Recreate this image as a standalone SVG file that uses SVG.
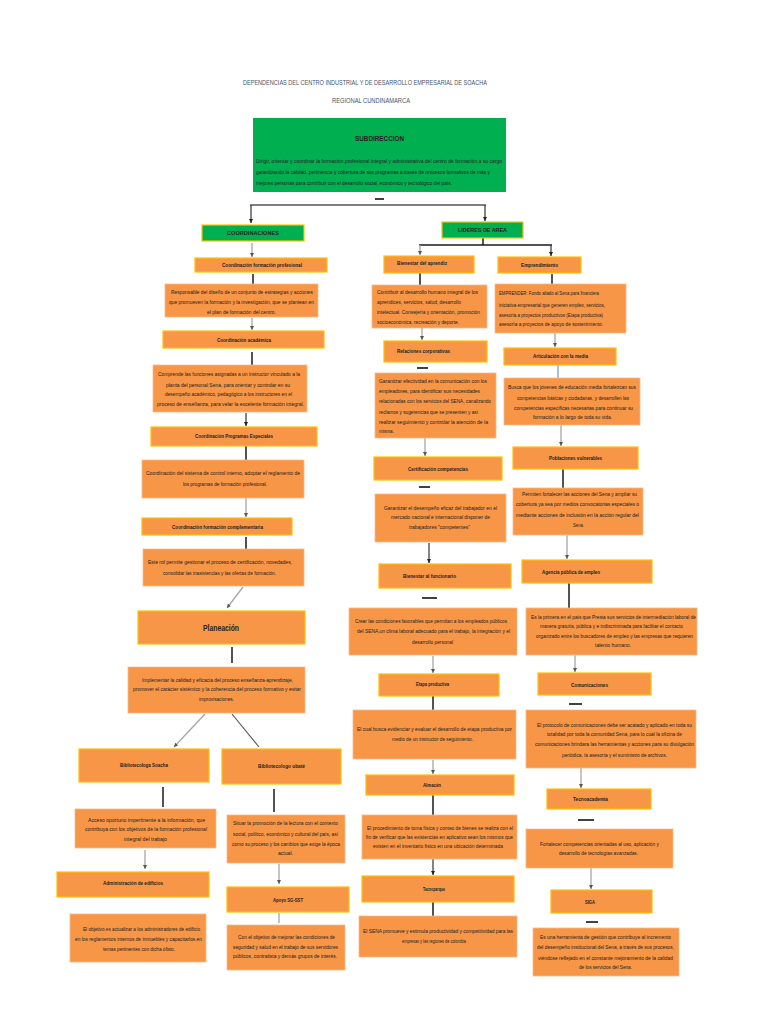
<svg xmlns="http://www.w3.org/2000/svg" width="768" height="1024" viewBox="0 0 768 1024">
<defs>
<marker id="ag" markerUnits="userSpaceOnUse" markerWidth="5" markerHeight="5" refX="4" refY="2.5" orient="auto"><path d="M0,0.5 L4,2.5 L0,4.5 z" fill="#555"/></marker>
<marker id="ad" markerUnits="userSpaceOnUse" markerWidth="5" markerHeight="5" refX="4" refY="2.5" orient="auto"><path d="M0,0.5 L4,2.5 L0,4.5 z" fill="#222"/></marker>
<style>
text{font-family:"Liberation Sans",Arial,sans-serif;font-size:5.2px;fill:#222;dominant-baseline:central}
.b{font-weight:bold}
.tt{font-size:6.5px;fill:#44546a}
.bx{fill:#f79646;stroke:#ffc000;stroke-width:1.2}
.ds{fill:#f79646;stroke:#f9b98a;stroke-width:0.8}
.gr{fill:#00b050;stroke:#ffc000;stroke-width:1.2}
.ln{stroke:#1a1a1a;stroke-width:1.5;fill:none}
.ga{stroke:#a6a6a6;stroke-width:1.3;fill:none;marker-end:url(#ag)}
.da{stroke:#333;stroke-width:1.2;fill:none;marker-end:url(#ad)}
.dh{stroke:#111;stroke-width:1.6}
</style>
</defs>
<rect width="768" height="1024" fill="#fff"/>
<g id="title">
<text class="tt" x="243" y="82" textLength="244" lengthAdjust="spacingAndGlyphs">DEPENDENCIAS DEL CENTRO INDUSTRIAL Y DE DESARROLLO EMPRESARIAL DE SOACHA</text>
<text class="tt" x="332" y="100" textLength="78" lengthAdjust="spacingAndGlyphs">REGIONAL CUNDINAMARCA</text>
</g>
<g id="connectors">
<line class="dh" x1="375" y1="199" x2="384" y2="199"/>
<line x1="250" y1="205" x2="486" y2="205" stroke="#555" stroke-width="1.6"/>
<line class="da" x1="251" y1="205" x2="251" y2="223"/>
<line class="da" x1="485" y1="205" x2="485" y2="221"/>
<polyline class="ln" points="483,238 483,245"/>
<line x1="419" y1="245" x2="552" y2="245" stroke="#1a1a1a" stroke-width="1.5"/>
<line class="ga" x1="420" y1="245" x2="420" y2="255"/>
<line class="da" x1="551" y1="245" x2="551" y2="256"/>
<line class="ga" x1="252" y1="243" x2="252" y2="257"/>
<line class="ln" x1="253" y1="274" x2="253" y2="284"/>
<line class="ga" x1="252" y1="318" x2="252" y2="330"/>
<line class="ln" x1="252" y1="352" x2="252" y2="365"/>
<line class="da" x1="246" y1="413" x2="246" y2="426"/>
<line class="ln" x1="246" y1="446" x2="246" y2="460"/>
<line class="ga" x1="246" y1="498" x2="246" y2="517"/>
<line class="ln" x1="246" y1="537" x2="246" y2="549"/>
<line class="ga" x1="243" y1="587" x2="227" y2="608"/>
<line class="ln" x1="232" y1="647" x2="232" y2="663"/>
<line class="ga" x1="205" y1="714" x2="174" y2="747"/>
<line x1="232" y1="714" x2="259" y2="747" stroke="#555" stroke-width="1.1"/>
<line class="ln" x1="163" y1="787" x2="163" y2="807"/>
<line class="ga" x1="145" y1="850" x2="145" y2="869"/>
<line class="ln" x1="274" y1="789" x2="274" y2="812"/>
<line class="ga" x1="279" y1="864" x2="279" y2="884"/>
<line x1="279" y1="913" x2="279" y2="923" stroke="#a6a6a6" stroke-width="1.3"/>
<line class="ln" x1="420" y1="273" x2="420" y2="285"/>
<line class="ga" x1="422" y1="328" x2="422" y2="340"/>
<line class="dh" x1="417" y1="368" x2="428" y2="368"/>
<line class="ga" x1="425" y1="438" x2="425" y2="456"/>
<line class="dh" x1="419" y1="487" x2="430" y2="487"/>
<line class="da" x1="429" y1="543" x2="429" y2="563"/>
<line class="dh" x1="422" y1="598" x2="437" y2="598"/>
<line class="ga" x1="433" y1="656" x2="433" y2="673"/>
<line class="ln" x1="433" y1="696" x2="433" y2="710"/>
<line class="ga" x1="433" y1="760" x2="433" y2="774"/>
<line class="ln" x1="433" y1="795" x2="433" y2="815"/>
<line class="da" x1="433" y1="859" x2="433" y2="875"/>
<line class="ln" x1="433" y1="902" x2="433" y2="916"/>
<line class="ln" x1="552" y1="274" x2="552" y2="284"/>
<line class="ga" x1="555" y1="333" x2="555" y2="347"/>
<line x1="558" y1="365" x2="558" y2="378" stroke="#8eaacc" stroke-width="1.5"/>
<line class="ga" x1="561" y1="425" x2="561" y2="446"/>
<line class="ln" x1="563" y1="469" x2="563" y2="488"/>
<line class="ga" x1="567" y1="535" x2="567" y2="559"/>
<line class="ln" x1="569" y1="583" x2="569" y2="608"/>
<line class="ga" x1="575" y1="655" x2="575" y2="672"/>
<line class="dh" x1="569" y1="704" x2="582" y2="704"/>
<line class="ga" x1="581" y1="768" x2="581" y2="788"/>
<line class="dh" x1="578" y1="820" x2="594" y2="820"/>
<line class="ga" x1="591" y1="868" x2="591" y2="889"/>
<line class="dh" x1="586" y1="922" x2="598" y2="922"/>
</g>
<g id="subdireccion">
<rect x="253" y="118" width="253" height="74" fill="#00b050"/>
<text class="b" x="355" y="138" style="font-size:6.5px" textLength="49" lengthAdjust="spacingAndGlyphs">SUBDIRECCION</text>
<text x="256" y="161" textLength="246" lengthAdjust="spacingAndGlyphs">Dirigir, orientar y coordinar la formacion profesional integral  y administrativa del centro de formación a su cargo</text>
<text x="256" y="172" textLength="234" lengthAdjust="spacingAndGlyphs">garantizando la calidad, pertinencia y cobertura de sus programas a través de  procesos formativos de más y</text>
<text x="256" y="183" textLength="196" lengthAdjust="spacingAndGlyphs">mejores personas para contribuir con el desarrollo social, económico y tecnológico del país.</text>
</g>
<g id="coordinaciones"><rect class="gr" x="202" y="225" width="102" height="16"/><text class="b" x="227" y="233" textLength="52" lengthAdjust="spacingAndGlyphs">COORDINACIONES</text></g>
<g id="lideres"><rect class="gr" x="442" y="222" width="81" height="16"/><text class="b" x="458" y="230" textLength="49" lengthAdjust="spacingAndGlyphs">LIDERES DE AREA</text></g>
<g id="coord-prof"><rect class="bx" x="195" y="258" width="132" height="14"/><text class="b" x="222" y="265" textLength="80" lengthAdjust="spacingAndGlyphs">Coordinación formación profesional</text></g>
<g id="coord-prof-desc"><rect class="ds" x="165" y="284" width="153" height="33"/>
<text x="171" y="292" textLength="142" lengthAdjust="spacingAndGlyphs">Responsable del diseño de un conjunto de estrategias y acciones</text>
<text x="169" y="302" textLength="145" lengthAdjust="spacingAndGlyphs">que promueven la formación y la investigación, que se plantean en</text>
<text x="207" y="312" textLength="69" lengthAdjust="spacingAndGlyphs">el plan de formación del centro.</text></g>
<g id="coord-acad"><rect class="bx" x="163" y="331" width="161" height="17"/><text class="b" x="217" y="340" textLength="54" lengthAdjust="spacingAndGlyphs">Coordinación académica</text></g>
<g id="coord-acad-desc"><rect class="ds" x="153" y="365" width="154" height="47"/>
<text x="158" y="374" textLength="142" lengthAdjust="spacingAndGlyphs">Comprende las funciones asignadas a un instructor vinculado a la</text>
<text x="166" y="385" textLength="124" lengthAdjust="spacingAndGlyphs">planta del personal Sena, para orientar y controlar en su</text>
<text x="165" y="394" textLength="127" lengthAdjust="spacingAndGlyphs">desempeño académico, pedagógico a los instructores en el</text>
<text x="157" y="404" textLength="147" lengthAdjust="spacingAndGlyphs">proceso de enseñanza, para velar la excelente formación integral.</text></g>
<g id="coord-prog"><rect class="bx" x="151" y="427" width="166" height="19"/><text class="b" x="195" y="436" textLength="78" lengthAdjust="spacingAndGlyphs">Coordinación Programas Especiales</text></g>
<g id="coord-prog-desc"><rect class="ds" x="142" y="460" width="162" height="38"/>
<text x="146" y="473" textLength="154" lengthAdjust="spacingAndGlyphs">Coordinación del sistema de control interno, adoptar el reglamento de</text>
<text x="183" y="484" textLength="84" lengthAdjust="spacingAndGlyphs">los programas de formación profesional.</text></g>
<g id="coord-comp"><rect class="bx" x="142" y="518" width="150" height="17"/><text class="b" x="172" y="527" textLength="91" lengthAdjust="spacingAndGlyphs">Coordinación formación complementaria</text></g>
<g id="coord-comp-desc"><rect class="ds" x="143" y="549" width="161" height="37"/>
<text x="148" y="562" textLength="144" lengthAdjust="spacingAndGlyphs">Este rol permite gestionar el proceso de certificación, novedades,</text>
<text x="163" y="573" textLength="113" lengthAdjust="spacingAndGlyphs">consolidar las inasistencias y las ofertas de formación.</text></g>
<g id="planeacion"><rect class="bx" x="138" y="611" width="167" height="33"/><text class="b" x="203" y="628" style="font-size:8.5px" textLength="36" lengthAdjust="spacingAndGlyphs">Planeación</text></g>
<g id="planeacion-desc"><rect class="ds" x="128" y="667" width="177" height="46"/>
<text x="142" y="680" textLength="151" lengthAdjust="spacingAndGlyphs">Implementar la calidad y eficacia del proceso enseñanza-aprendizaje,</text>
<text x="133" y="689" textLength="168" lengthAdjust="spacingAndGlyphs">promover el carácter sistémico y la coherencia del proceso formativo y evitar</text>
<text x="199" y="699" textLength="35" lengthAdjust="spacingAndGlyphs">improvisaciones.</text></g>
<g id="biblio-soacha"><rect class="bx" x="79" y="749" width="130" height="33"/><text class="b" x="120" y="765" textLength="48" lengthAdjust="spacingAndGlyphs">Bibliotecologa Soacha</text></g>
<g id="biblio-ubate"><rect class="bx" x="222" y="749" width="119" height="35"/><text class="b" x="258" y="766" textLength="47" lengthAdjust="spacingAndGlyphs">Bibliotecologo ubaté</text></g>
<g id="biblio-soacha-desc"><rect class="ds" x="75" y="809" width="141" height="39"/>
<text x="88" y="820" textLength="117" lengthAdjust="spacingAndGlyphs">Acceso oportuno impertinente a la información, que</text>
<text x="85" y="829" textLength="122" lengthAdjust="spacingAndGlyphs">contribuya con los objetivos de la formación profesional</text>
<text x="124" y="839" textLength="43" lengthAdjust="spacingAndGlyphs">integral del trabajo</text></g>
<g id="biblio-ubate-desc"><rect class="ds" x="227" y="815" width="118" height="48"/>
<text x="233" y="823" textLength="105" lengthAdjust="spacingAndGlyphs">Situar la promoción de la lectura con el contexto</text>
<text x="233" y="834" textLength="105" lengthAdjust="spacingAndGlyphs">social, político, económico y cultural del país, así</text>
<text x="232" y="844" textLength="108" lengthAdjust="spacingAndGlyphs">como su proceso y los cambios que exige la época</text>
<text x="278" y="853" textLength="15" lengthAdjust="spacingAndGlyphs">actual.</text></g>
<g id="admin-edificios"><rect class="bx" x="57" y="872" width="152" height="25"/><text class="b" x="103" y="883" textLength="60" lengthAdjust="spacingAndGlyphs">Administración de edificios</text></g>
<g id="apoyo-sst"><rect class="bx" x="227" y="887" width="122" height="25"/><text class="b" x="273" y="900" textLength="30" lengthAdjust="spacingAndGlyphs">Apoyo SG-SST</text></g>
<g id="admin-edificios-desc"><rect class="ds" x="70" y="914" width="136" height="48"/>
<text x="83" y="929" textLength="117" lengthAdjust="spacingAndGlyphs">El objetivo es actualizar a los administradores de edificio</text>
<text x="75" y="939" textLength="127" lengthAdjust="spacingAndGlyphs">en los reglamentos internos de inmuebles y capacitarlos en</text>
<text x="103" y="949" textLength="72" lengthAdjust="spacingAndGlyphs">temas pertinentes con dicha ofisio.</text></g>
<g id="apoyo-sst-desc"><rect class="ds" x="227" y="925" width="118" height="45"/>
<text x="238" y="937" textLength="97" lengthAdjust="spacingAndGlyphs">Con el objetivo de mejorar las condiciones de</text>
<text x="233" y="947" textLength="105" lengthAdjust="spacingAndGlyphs">seguridad y salud en el trabajo de sus servidores</text>
<text x="233" y="956" textLength="104" lengthAdjust="spacingAndGlyphs">públicos, contratista y demás grupos de interés.</text></g>
<g id="bienestar-aprendiz"><rect class="bx" x="384" y="256" width="90" height="17"/><text class="b" x="397" y="263" textLength="50" lengthAdjust="spacingAndGlyphs">Bienestar del aprendiz</text></g>
<g id="bienestar-aprendiz-desc"><rect class="ds" x="372" y="285" width="115" height="43"/>
<text x="377" y="292" textLength="101" lengthAdjust="spacingAndGlyphs">Contribuir al desarrollo humano integral de los</text>
<text x="377" y="302" textLength="84" lengthAdjust="spacingAndGlyphs">aprendices, servicios, salud, desarrollo</text>
<text x="377" y="312" textLength="103" lengthAdjust="spacingAndGlyphs">intelectual. Consejería y orientación, promoción</text>
<text x="377" y="322" textLength="82" lengthAdjust="spacingAndGlyphs">socioeconómica, recreación y deporte.</text></g>
<g id="relaciones"><rect class="bx" x="384" y="341" width="103" height="21"/><text class="b" x="397" y="351" textLength="53" lengthAdjust="spacingAndGlyphs">Relaciones corporativas</text></g>
<g id="relaciones-desc"><rect class="ds" x="375" y="373" width="121" height="65"/>
<text x="379" y="381" textLength="108" lengthAdjust="spacingAndGlyphs">Garantizar efectividad en la comunicación con los</text>
<text x="379" y="391" textLength="101" lengthAdjust="spacingAndGlyphs">empleadores, para identificar sus necesidades</text>
<text x="379" y="401" textLength="112" lengthAdjust="spacingAndGlyphs">relacionadas con los servicios del SENA, canalizando</text>
<text x="379" y="412" textLength="99" lengthAdjust="spacingAndGlyphs">reclamos y sugerencias que se presenten y así</text>
<text x="379" y="422" textLength="109" lengthAdjust="spacingAndGlyphs">realizar seguimiento y controlar la atención de la</text>
<text x="379" y="431" textLength="15" lengthAdjust="spacingAndGlyphs">misma.</text></g>
<g id="certificacion"><rect class="bx" x="374" y="457" width="128" height="23"/><text class="b" x="408" y="469" textLength="60" lengthAdjust="spacingAndGlyphs">Certificación competencias</text></g>
<g id="certificacion-desc"><rect class="ds" x="375" y="494" width="131" height="48"/>
<text x="384" y="508" textLength="113" lengthAdjust="spacingAndGlyphs">Garantizar el desempeño eficaz del trabajador en el</text>
<text x="391" y="517" textLength="99" lengthAdjust="spacingAndGlyphs">mercado nacional e internacional disponer de</text>
<text x="409" y="527" textLength="61" lengthAdjust="spacingAndGlyphs">trabajadores "competentes"</text></g>
<g id="bienestar-funcionario"><rect class="bx" x="379" y="564" width="132" height="24"/><text class="b" x="403" y="576" textLength="53" lengthAdjust="spacingAndGlyphs">Bienestar al funcionario</text></g>
<g id="bienestar-funcionario-desc"><rect class="ds" x="349" y="608" width="168" height="47"/>
<text x="355" y="621" textLength="152" lengthAdjust="spacingAndGlyphs">Crear las condiciones favorables que permitan a los empleados públicos</text>
<text x="357" y="631" textLength="153" lengthAdjust="spacingAndGlyphs">del SENA,un clima laboral adecuado para el trabajo, la integración y  el</text>
<text x="412" y="642" textLength="41" lengthAdjust="spacingAndGlyphs">desarrollo personal</text></g>
<g id="etapa-productiva"><rect class="bx" x="379" y="674" width="120" height="22"/><text class="b" x="416" y="684" textLength="33" lengthAdjust="spacingAndGlyphs">Etapa productiva</text></g>
<g id="etapa-productiva-desc"><rect class="ds" x="353" y="710" width="163" height="49"/>
<text x="357" y="729" textLength="155" lengthAdjust="spacingAndGlyphs">El cual busca evidenciar y evaluar el desarrollo de etapa productiva por</text>
<text x="392" y="739" textLength="81" lengthAdjust="spacingAndGlyphs">medio de un instructor de seguimiento.</text></g>
<g id="almacen"><rect class="bx" x="366" y="775" width="148" height="20"/><text class="b" x="423" y="785" textLength="18" lengthAdjust="spacingAndGlyphs">Almacén</text></g>
<g id="almacen-desc"><rect class="ds" x="362" y="815" width="155" height="44"/>
<text x="367" y="828" textLength="146" lengthAdjust="spacingAndGlyphs">El procedimiento de toma física y conteo de bienes se realiza con el</text>
<text x="366" y="837" textLength="147" lengthAdjust="spacingAndGlyphs">fin de verificar que las existencias en aplicativo sean los mismos que</text>
<text x="373" y="846" textLength="130" lengthAdjust="spacingAndGlyphs">existen en el inventario físico en una ubicación determinada</text></g>
<g id="tecnoparque"><rect class="bx" x="362" y="876" width="152" height="26"/><text class="b" x="423" y="889" textLength="22" lengthAdjust="spacingAndGlyphs">Tecnoparque</text></g>
<g id="tecnoparque-desc"><rect class="ds" x="359" y="916" width="158" height="41"/>
<text x="363" y="931" textLength="150" lengthAdjust="spacingAndGlyphs">El SENA promueve y estimula productividad y competitividad para las</text>
<text x="402" y="941" textLength="64" lengthAdjust="spacingAndGlyphs">empresas y las regiones de colombia</text></g>
<g id="emprendimiento"><rect class="bx" x="498" y="257" width="83" height="16"/><text class="b" x="521" y="265" textLength="37" lengthAdjust="spacingAndGlyphs">Emprendimiento</text></g>
<g id="emprendimiento-desc"><rect class="ds" x="495" y="284" width="131" height="49"/>
<text x="499" y="293" textLength="100" lengthAdjust="spacingAndGlyphs">EMPRENDER: Fondo aliado al Sena para financiera</text>
<text x="499" y="305" textLength="106" lengthAdjust="spacingAndGlyphs">iniciativa empresarial que generen  empleo, servicios,</text>
<text x="499" y="315" textLength="104" lengthAdjust="spacingAndGlyphs">asesoría a proyectos productivos (Etapa productiva)</text>
<text x="499" y="324" textLength="104" lengthAdjust="spacingAndGlyphs">asesoría a proyectos de apoyo de sostenimiento.</text></g>
<g id="articulacion"><rect class="bx" x="504" y="348" width="112" height="17"/><text class="b" x="533" y="356" textLength="55" lengthAdjust="spacingAndGlyphs">Articulación con la media</text></g>
<g id="articulacion-desc"><rect class="ds" x="504" y="378" width="136" height="47"/>
<text x="508" y="387" textLength="128" lengthAdjust="spacingAndGlyphs">Busca que los jóvenes de educación media fortalezcan sus</text>
<text x="517" y="398" textLength="112" lengthAdjust="spacingAndGlyphs">competencias básicas y ciudadanas, y desarrollen las</text>
<text x="514" y="408" textLength="119" lengthAdjust="spacingAndGlyphs">competencias específicas necesarias para continuar su</text>
<text x="533" y="417" textLength="79" lengthAdjust="spacingAndGlyphs">formación a lo largo de toda su vida.</text></g>
<g id="poblaciones"><rect class="bx" x="513" y="447" width="125" height="22"/><text class="b" x="549" y="458" textLength="53" lengthAdjust="spacingAndGlyphs">Poblaciones vulnerables</text></g>
<g id="poblaciones-desc"><rect class="ds" x="513" y="488" width="130" height="47"/>
<text x="522" y="494" textLength="115" lengthAdjust="spacingAndGlyphs">Permiten fortalecer las acciones del Sena y ampliar su</text>
<text x="516" y="504" textLength="123" lengthAdjust="spacingAndGlyphs">cobertura ya sea por medios convocatorias especiales o</text>
<text x="516" y="515" textLength="123" lengthAdjust="spacingAndGlyphs">mediante acciones de inclusión en la acción regular del</text>
<text x="573" y="525" textLength="11" lengthAdjust="spacingAndGlyphs">Sena.</text></g>
<g id="agencia"><rect class="bx" x="522" y="560" width="130" height="23"/><text class="b" x="542" y="572" textLength="58" lengthAdjust="spacingAndGlyphs">Agencia pública de empleo</text></g>
<g id="agencia-desc"><rect class="ds" x="526" y="608" width="171" height="47"/>
<text x="531" y="617" textLength="165" lengthAdjust="spacingAndGlyphs">Es la primera en el país que Presta sus servicios de intermediación laboral de</text>
<text x="540" y="626" textLength="143" lengthAdjust="spacingAndGlyphs">manera gratuita, pública y e indiscriminada para facilitar el contacto</text>
<text x="536" y="636" textLength="157" lengthAdjust="spacingAndGlyphs">organizado entre los buscadores de empleo y las empresas que requieren</text>
<text x="595" y="645" textLength="36" lengthAdjust="spacingAndGlyphs">talento humano.</text></g>
<g id="comunicaciones"><rect class="bx" x="538" y="673" width="113" height="22"/><text class="b" x="571" y="685" textLength="37" lengthAdjust="spacingAndGlyphs">Comunicaciones</text></g>
<g id="comunicaciones-desc"><rect class="ds" x="526" y="710" width="170" height="58"/>
<text x="537" y="725" textLength="155" lengthAdjust="spacingAndGlyphs">El protocolo de comunicaciones debe ser acatado y aplicado en toda su</text>
<text x="547" y="734" textLength="135" lengthAdjust="spacingAndGlyphs">totalidad por toda la comunidad Sena, para lo cual la oficina de</text>
<text x="535" y="744" textLength="159" lengthAdjust="spacingAndGlyphs">comunicaciones brindara las herramientas y acciones  para su divulgación</text>
<text x="562" y="755" textLength="105" lengthAdjust="spacingAndGlyphs">periódica, la asesoría y el suministro de archivos.</text></g>
<g id="tecnoacademia"><rect class="bx" x="547" y="789" width="104" height="20"/><text class="b" x="573" y="799" textLength="35" lengthAdjust="spacingAndGlyphs">Tecnoacademia</text></g>
<g id="tecnoacademia-desc"><rect class="ds" x="526" y="829" width="147" height="39"/>
<text x="540" y="844" textLength="119" lengthAdjust="spacingAndGlyphs">Fortalecer competencias orientadas al uso, aplicación y</text>
<text x="559" y="853" textLength="79" lengthAdjust="spacingAndGlyphs">desarrollo de tecnologías avanzadas.</text></g>
<g id="siga"><rect class="bx" x="551" y="890" width="101" height="23"/><text class="b" x="585" y="902" textLength="10" lengthAdjust="spacingAndGlyphs">SIGA</text></g>
<g id="siga-desc"><rect class="ds" x="533" y="928" width="146" height="48"/>
<text x="540" y="937" textLength="131" lengthAdjust="spacingAndGlyphs">Es una herramienta de gestión que contribuye al incremento</text>
<text x="537" y="947" textLength="137" lengthAdjust="spacingAndGlyphs">del desempeño institucional del Sena, a través de sus procesos,</text>
<text x="538" y="958" textLength="135" lengthAdjust="spacingAndGlyphs">viéndose reflejado en el constante mejoramiento de la calidad</text>
<text x="579" y="967" textLength="53" lengthAdjust="spacingAndGlyphs">de los servicios del Sena.</text></g>
</svg>
